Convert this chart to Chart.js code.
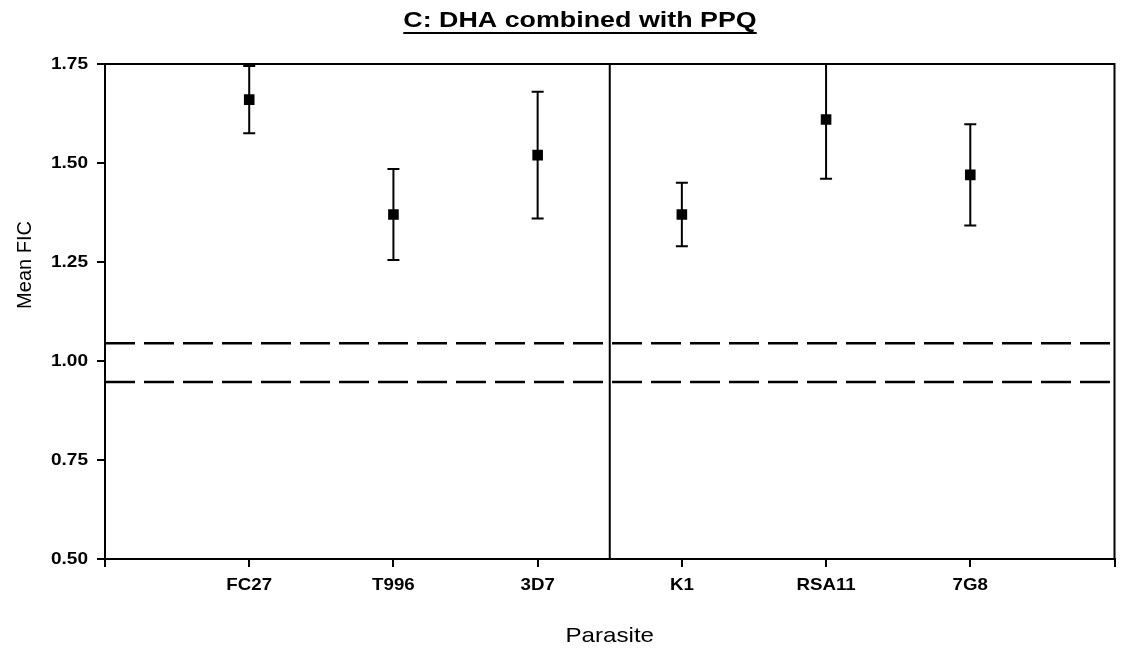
<!DOCTYPE html>
<html>
<head>
<meta charset="utf-8">
<script src="https://cdn.jsdelivr.net/npm/chart.js@4/dist/chart.umd.min.js"></script>
<style>
  html, body { margin: 0; padding: 0; background: #fff; }
  #wrap { width: 1122px; height: 651px; }
</style>
</head>
<body>
<div id="wrap"><canvas id="fic" width="1122" height="651"></canvas></div>
<script>
// parasite strains, plotted at x = 1..6, divider between the two groups
const parasites = ['FC27', 'T996', '3D7', 'K1', 'RSA11', '7G8'];
const positions = [1, 2, 3, 4, 5, 6];
const meanFIC = [1.66, 1.37, 1.52, 1.37, 1.61, 1.47];
const errFIC = [0.085, 0.115, 0.16, 0.08, 0.15, 0.128];
const dashedLevels = [1.045, 0.947];
const dividerX = 3.5;
const xTicks = [0, 1, 2, 3, 4, 5, 6, 7];
const yTicks = [0.50, 0.75, 1.00, 1.25, 1.50, 1.75];
const titleText = 'C: DHA combined with PPQ';
const xTitle = 'Parasite';
const yTitle = 'Mean FIC';

const FONT = '"Liberation Sans", Arial, sans-serif';

// the source figure's lettering is a little wide, so stretch it sideways
function stretchText(ctx, str, x, y, sx, align) {
  ctx.save();
  ctx.translate(x, y);
  ctx.scale(sx, 1);
  ctx.textAlign = align;
  ctx.fillText(str, 0, 0);
  ctx.restore();
}

// error bars drawn under the markers
const errorBars = {
  id: 'errorBars',
  beforeDatasetsDraw(chart) {
    const { ctx, chartArea: a, scales: { x, y } } = chart;
    ctx.save();
    ctx.beginPath();
    ctx.rect(a.left, a.top, a.right - a.left, a.bottom - a.top);
    ctx.clip();
    ctx.strokeStyle = '#000';
    ctx.lineWidth = 2;
    positions.forEach((p, i) => {
      const px = x.getPixelForValue(p);
      const hi = y.getPixelForValue(meanFIC[i] + errFIC[i]);
      const lo = y.getPixelForValue(meanFIC[i] - errFIC[i]);
      ctx.beginPath();
      ctx.moveTo(px, hi); ctx.lineTo(px, lo);
      ctx.moveTo(px - 6, hi); ctx.lineTo(px + 6, hi);
      ctx.moveTo(px - 6, lo); ctx.lineTo(px + 6, lo);
      ctx.stroke();
    });
    ctx.restore();
  }
};

// box frame (top/right) and the group divider
const frame = {
  id: 'frame',
  afterDraw(chart) {
    const { ctx, chartArea: a, scales: { x } } = chart;
    const dx = x.getPixelForValue(dividerX);
    ctx.save();
    ctx.strokeStyle = '#000';
    ctx.lineWidth = 2;
    ctx.beginPath();
    ctx.moveTo(a.left, a.top); ctx.lineTo(a.right, a.top); ctx.lineTo(a.right, a.bottom);
    ctx.moveTo(dx, a.top); ctx.lineTo(dx, a.bottom);
    ctx.stroke();
    ctx.restore();
  }
};

// tick labels, title with underline, axis titles
const texts = {
  id: 'texts',
  afterDraw(chart) {
    const { ctx, chartArea: a, scales: { x, y } } = chart;
    ctx.save();
    ctx.fillStyle = '#000';
    ctx.strokeStyle = '#000';
    ctx.textBaseline = 'middle';

    ctx.font = 'bold 17px ' + FONT;
    yTicks.forEach(v => stretchText(ctx, v.toFixed(2), a.left - 17, y.getPixelForValue(v), 1.12, 'right'));

    ctx.font = 'bold 17px ' + FONT;
    positions.forEach((p, i) => stretchText(ctx, parasites[i], x.getPixelForValue(p), a.bottom + 26, 1.1, 'center'));

    ctx.font = 'bold 22px ' + FONT;
    const tx = 580, ty = 21;
    stretchText(ctx, titleText, tx, ty, 1.22, 'center');
    const w = ctx.measureText(titleText).width * 1.22;
    ctx.lineWidth = 2;
    ctx.beginPath();
    ctx.moveTo(tx - w / 2, ty + 12); ctx.lineTo(tx + w / 2, ty + 12);
    ctx.stroke();

    ctx.font = '21px ' + FONT;
    stretchText(ctx, xTitle, (a.left + a.right) / 2, 636, 1.15, 'center');

    ctx.font = '20px ' + FONT;
    ctx.translate(25, 265);
    ctx.rotate(-Math.PI / 2);
    ctx.textAlign = 'center';
    ctx.fillText(yTitle, 0, 0);
    ctx.restore();
  }
};

new Chart(document.getElementById('fic'), {
  type: 'scatter',
  data: {
    datasets: [
      {
        data: positions.map((p, i) => ({ x: p, y: meanFIC[i] })),
        pointStyle: 'rect',
        pointRadius: 7.5,
        backgroundColor: '#000',
        borderWidth: 0,
        order: 0
      },
      ...dashedLevels.map(v => ({
        data: [{ x: xTicks[0], y: v }, { x: xTicks[xTicks.length - 1], y: v }],
        showLine: true,
        borderColor: '#000',
        borderWidth: 2.5,
        borderDash: [30, 9],
        pointRadius: 0,
        order: 1
      }))
    ]
  },
  options: {
    responsive: false,
    animation: false,
    layout: { padding: { top: 64, right: 3, left: 0, bottom: 0 } },
    plugins: { legend: { display: false }, tooltip: { enabled: false } },
    scales: {
      x: {
        type: 'linear',
        min: xTicks[0],
        max: xTicks[xTicks.length - 1],
        afterBuildTicks: s => { s.ticks = xTicks.map(v => ({ value: v })); },
        afterFit: s => { s.height = 92; },
        ticks: { display: false },
        grid: { drawOnChartArea: false, drawTicks: true, tickLength: 8, color: '#000', lineWidth: 2 },
        border: { color: '#000', width: 2 }
      },
      y: {
        min: yTicks[0],
        max: yTicks[yTicks.length - 1],
        afterBuildTicks: s => { s.ticks = yTicks.map(v => ({ value: v })); },
        afterFit: s => { s.width = 105; },
        ticks: { display: false },
        grid: { drawOnChartArea: false, drawTicks: true, tickLength: 8, color: '#000', lineWidth: 2 },
        border: { color: '#000', width: 2 }
      }
    }
  },
  plugins: [errorBars, frame, texts]
});
</script>
</body>
</html>
